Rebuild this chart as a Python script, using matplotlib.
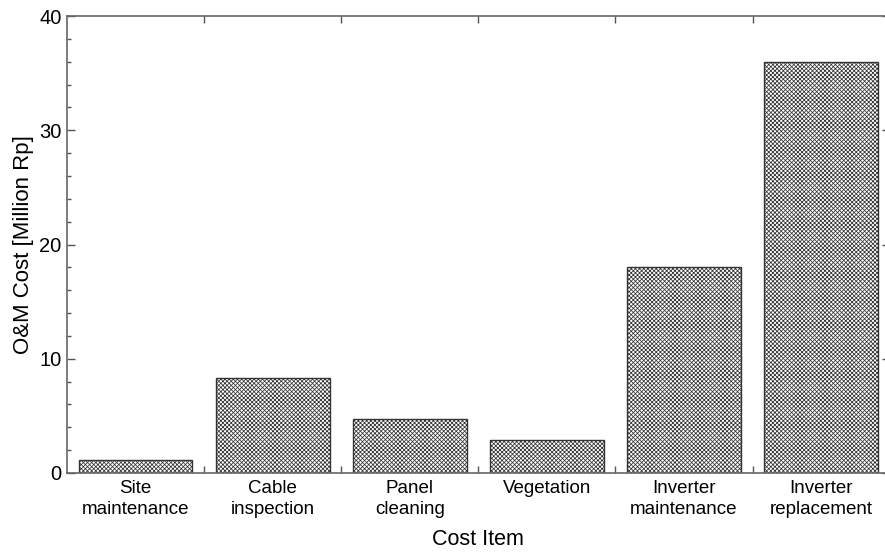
import matplotlib
matplotlib.use("Agg")
import matplotlib.pyplot as plt
from matplotlib.ticker import MultipleLocator, FixedLocator
import numpy as np

categories = ["Site\nmaintenance", "Cable\ninspection", "Panel\ncleaning",
              "Vegetation", "Inverter\nmaintenance", "Inverter\nreplacement"]
values = [1.1, 8.3, 4.7, 2.9, 18.0, 36.0]

plt.rcParams['font.family'] = ['Liberation Sans', 'DejaVu Sans']
plt.rcParams['hatch.linewidth'] = 0.55
plt.rcParams['hatch.color'] = '#6e6e6e'

fig = plt.figure(figsize=(8.85, 5.53), dpi=100)
ax = fig.add_axes([67/885, 80/553, 822.6/885, 457/553])

x = np.arange(len(categories))
ax.bar(x, values, width=0.83, facecolor='white', edgecolor='#333333',
       linewidth=1.0, hatch='xxxxxxxx', zorder=2)

ax.set_xlim(-0.5, len(categories) - 0.5)
ax.set_ylim(0, 40)
ax.set_xticks(x)
ax.set_xticklabels(categories, fontsize=13.5, linespacing=1.3)
ax.xaxis.set_minor_locator(FixedLocator(np.arange(0.5, len(categories) - 0.5, 1)))
ax.yaxis.set_major_locator(MultipleLocator(10))
ax.yaxis.set_minor_locator(MultipleLocator(2))
ax.tick_params(axis='x', which='major', length=0, pad=5, labelsize=13.5)
ax.tick_params(axis='x', which='minor', direction='in', length=5, top=True,
               color='#555555', width=1)
ax.tick_params(axis='y', which='major', direction='in', length=6, right=True,
               color='#555555', width=1, labelsize=14.5, pad=4)
ax.tick_params(axis='y', which='minor', direction='in', length=3, right=True,
               color='#555555', width=1)
for s in ax.spines.values():
    s.set_color('#666666')
    s.set_linewidth(1.2)

ax.set_xlabel("Cost Item", fontsize=15.5, labelpad=8)
ax.set_ylabel("O&M Cost [Million Rp]", fontsize=16, labelpad=4)

fig.savefig("out.png", dpi=100)
